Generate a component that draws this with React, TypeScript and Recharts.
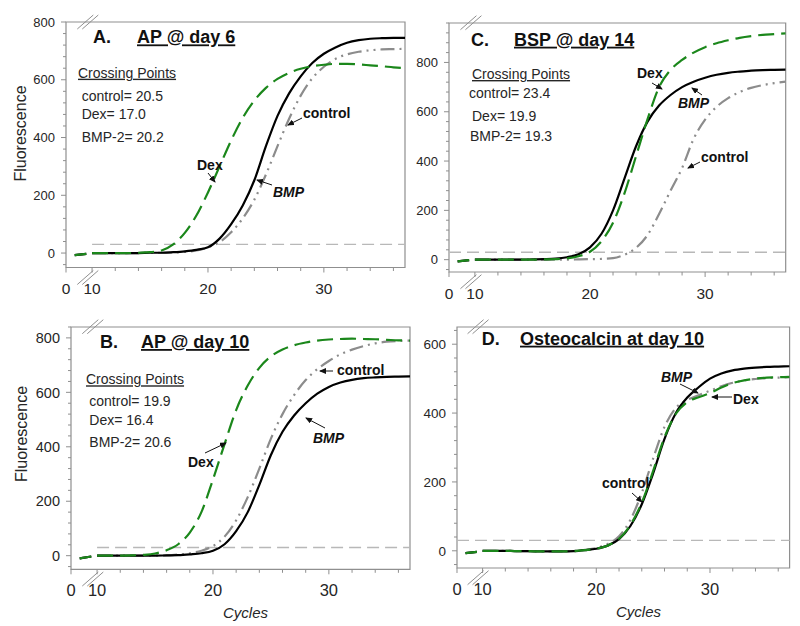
import React from "react"
import { LineChart, Line, XAxis, YAxis, ReferenceLine, ReferenceArea } from "recharts"

const FONT = "'Liberation Sans', Arial, Helvetica, sans-serif"
const INK = "#262626"
const AXIS = "#8f8f8f"
const GREEN = "#1b871b"
const GREY = "#8c8c8c"

// x positions: two points in the broken stretch, a gap, then cycles 10-37
const breakX = [8.5, 9.5]
const gapX = 9.75
const cycles = [10, 11, 12, 13, 14, 15, 16, 17, 18, 19, 20, 21, 22, 23, 24, 25, 26, 27, 28, 29, 30, 31, 32, 33, 34, 35, 36, 37]

const xMajor = [7.75, 10, 20, 30]
const xLabels = ["0", "10", "20", "30"]
const xMinor = [12, 14, 16, 18, 22, 24, 26, 28, 32, 34, 36]
const X_DOMAIN = [7.75, 37]
const THRESHOLD = 30

// A. AP @ day 6
const aPre = [-7, -3]
const aControl = [0, 0, 0, 0, 0, 1, 1, 2, 4, 9, 20, 38, 72, 120, 185, 272, 370, 465, 545, 605, 645, 672, 688, 697, 702, 705, 706, 707]
const aDex = [0, 0, 0, 0, 1, 3, 9, 30, 70, 130, 210, 300, 390, 468, 528, 572, 603, 624, 638, 647, 652, 655, 655, 653, 650, 647, 643, 640]
const aBmp = [0, 0, 0, 0, 0, 1, 1, 3, 6, 11, 20, 50, 100, 165, 252, 370, 475, 553, 612, 658, 690, 712, 728, 737, 742, 744, 745, 745]

// C. BSP @ day 14
const cPre = [-7, -2]
const cControl = [0, 0, 0, 0, 0, 0, 0, 0, 0, 1, 2, 3, 6, 20, 48, 100, 185, 280, 372, 490, 568, 620, 655, 680, 697, 708, 716, 722]
const cDex = [0, 0, 0, 0, 0, 0, 1, 2, 5, 14, 32, 75, 150, 270, 420, 570, 700, 770, 810, 840, 862, 878, 890, 900, 907, 912, 915, 918]
const cBmp = [0, 0, 0, 0, 0, 1, 2, 4, 10, 22, 50, 105, 200, 330, 460, 560, 625, 668, 700, 722, 738, 750, 758, 763, 767, 769, 770, 771]

// B. AP @ day 10
const bPre = [-10, -3]
const bControl = [0, 0, 0, 0, 0, 0, 1, 4, 9, 18, 35, 70, 130, 215, 320, 430, 520, 590, 645, 685, 715, 740, 757, 770, 780, 786, 789, 790]
const bDex = [0, 0, 0, 1, 3, 8, 20, 42, 85, 160, 280, 410, 535, 625, 690, 732, 757, 773, 783, 790, 794, 796, 797, 796, 795, 793, 791, 790]
const bBmp = [0, 0, 0, 0, 0, 0, 1, 2, 5, 9, 18, 42, 90, 160, 260, 370, 455, 515, 560, 595, 620, 636, 646, 652, 655, 657, 658, 659]

// D. Osteocalcin at day 10
const dPre = [-7, -3]
const dControl = [0, 0, 0, -1, -1, -2, -2, -2, 0, 3, 8, 20, 42, 90, 168, 268, 360, 415, 438, 452, 465, 478, 488, 495, 499, 502, 503, 504]
const dDex = [0, 0, 0, -1, -1, -2, -2, -2, -1, 2, 6, 15, 35, 75, 140, 232, 330, 398, 432, 446, 458, 474, 487, 495, 500, 503, 504, 505]
const dBmp = [0, 0, 0, -1, -1, -2, -2, -2, -1, 2, 6, 15, 34, 72, 135, 225, 325, 400, 445, 475, 500, 515, 524, 529, 532, 534, 535, 536]

function rows(pre: number[], control: number[], dex: number[], bmp: number[]) {
  return [
    ...breakX.map((x, i) => ({ x, control: pre[i], dex: pre[i], bmp: pre[i] })),
    { x: gapX, control: null, dex: null, bmp: null },
    ...cycles.map((x, i) => ({ x, control: control[i], dex: dex[i], bmp: bmp[i] })),
  ]
}

function minorTicks(top: number, majors: number[]) {
  const out: number[] = []
  for (let v = -40; v <= top; v += 40) if (!majors.includes(v)) out.push(v)
  return out
}

const panels = [
  { id: "A", l: 66, t: 22, r: 405, b: 277.5, yDomain: [-50, 800], yMajor: [0, 200, 400, 600, 800], yFs: 13, xFs: 15.5, threshFrom: 10, data: rows(aPre, aControl, aDex, aBmp) },
  { id: "C", l: 449.3, t: 22.7, r: 786, b: 281.7, yDomain: [-50, 960], yMajor: [0, 200, 400, 600, 800], yFs: 13, xFs: 15.5, threshFrom: 7.75, data: rows(cPre, cControl, cDex, cBmp) },
  { id: "B", l: 71, t: 326.7, r: 410, b: 579, yDomain: [-50, 840], yMajor: [0, 200, 400, 600, 800], yFs: 14.5, xFs: 16.5, threshFrom: 10, data: rows(bPre, bControl, bDex, bBmp) },
  { id: "D", l: 456.7, t: 326.7, r: 789.3, b: 577.7, yDomain: [-50, 650], yMajor: [0, 200, 400, 600], yFs: 13.5, xFs: 16.5, threshFrom: 7.75, data: rows(dPre, dControl, dDex, dBmp) },
]

function YTick(props: any) {
  const { x, y, payload, majors, fs } = props
  const major = majors.includes(payload.value)
  return (
    <g>
      <line x1={x - (major ? 5 : 3)} x2={x} y1={y} y2={y} stroke={AXIS} />
      {major && (
        <text x={x - 11} y={y} dy="0.36em" textAnchor="end" fontSize={fs} fill={INK} fontFamily={FONT}>
          {payload.value}
        </text>
      )}
    </g>
  )
}

function XTick(props: any) {
  const { x, y, payload, fs } = props
  const idx = xMajor.indexOf(payload.value)
  return (
    <g>
      <line x1={x} x2={x} y1={y} y2={y + (idx >= 0 ? 5 : 3.5)} stroke={AXIS} />
      {idx >= 0 && (
        <text x={x} y={y + 21} dy="0.36em" textAnchor="middle" fontSize={fs} fill={INK} fontFamily={FONT}>
          {xLabels[idx]}
        </text>
      )}
    </g>
  )
}

function Panel({ p }: { p: (typeof panels)[number] }) {
  const w = p.r - p.l
  const h = p.b - p.t
  const yTicks = [...p.yMajor, ...minorTicks(p.yDomain[1], p.yMajor)].sort((a, b) => a - b)
  return (
    <div style={{ position: "absolute", left: p.l - 60, top: p.t - 10 }}>
      <LineChart width={w + 70} height={h + 50} data={p.data} margin={{ top: 10, right: 10, left: 0, bottom: 20 }}>
        <XAxis
          type="number"
          dataKey="x"
          domain={X_DOMAIN}
          allowDataOverflow
          ticks={[...xMajor, ...xMinor]}
          interval={0}
          axisLine={false}
          tickLine={false}
          tickSize={0}
          tickMargin={0}
          height={30}
          tick={(t: any) => <XTick {...t} fs={p.xFs} />}
        />
        <YAxis
          type="number"
          domain={p.yDomain}
          allowDataOverflow
          ticks={yTicks}
          interval={0}
          axisLine={false}
          tickLine={false}
          tickSize={0}
          tickMargin={0}
          width={60}
          tick={(t: any) => <YTick {...t} majors={p.yMajor} fs={p.yFs} />}
        />
        <ReferenceArea x1={7.75} x2={37} y1={p.yDomain[0]} y2={p.yDomain[1]} fill="none" stroke={AXIS} strokeWidth={1.2} ifOverflow="visible" />
        <ReferenceLine
          segment={[{ x: p.threshFrom, y: THRESHOLD }, { x: 37, y: THRESHOLD }]}
          stroke="#b8b8b8"
          strokeWidth={1.3}
          strokeDasharray="12 6"
        />
        <Line type="monotone" dataKey="control" stroke={GREY} strokeWidth={2.2} strokeDasharray="14 5 2 5 2 5" dot={false} isAnimationActive={false} />
        <Line type="monotone" dataKey="bmp" stroke="#000" strokeWidth={2.2} dot={false} isAnimationActive={false} />
        <Line type="monotone" dataKey="dex" stroke={GREEN} strokeWidth={2.2} strokeDasharray="16 7" dot={false} isAnimationActive={false} />
      </LineChart>
    </div>
  )
}

function Arrow({ x1, y1, x2, y2 }: { x1: number; y1: number; x2: number; y2: number }) {
  return <line x1={x1} y1={y1} x2={x2} y2={y2} stroke="#111" strokeWidth={1} markerEnd="url(#ah)" />
}

function Breaks() {
  return (
    <>
      {panels.map((p) => {
        const bx = p.l + ((9.63 - 7.75) * (p.r - p.l)) / 29.25
        return [p.t, p.b].map((y) =>
          [-2.5, 2.5].map((off) => (
            <line key={`${p.id}-${y}-${off}`} x1={bx + off - 8} y1={y + 7} x2={bx + off + 8} y2={y - 7} stroke={AXIS} strokeWidth={1} />
          ))
        )
      })}
    </>
  )
}

const T = { fontFamily: FONT, fill: "#111" }

export default function App() {
  return (
    <div style={{ position: "absolute", left: 0, top: 0, width: 800, height: 626, background: "#fff", fontFamily: FONT }}>
      {panels.map((p) => (
        <Panel key={p.id} p={p} />
      ))}
      <svg width={800} height={626} style={{ position: "absolute", left: 0, top: 0, pointerEvents: "none" }}>
        <defs>
          <marker id="ah" markerWidth="7" markerHeight="6" refX="6" refY="3" orient="auto" markerUnits="userSpaceOnUse">
            <path d="M0,0 L7,3 L0,6 z" fill="#111" />
          </marker>
        </defs>
        <Breaks />

        <text x={20} y={133.5} transform="rotate(-90 20 133.5)" textAnchor="middle" dy="0.35em" fontSize={16} {...T} fill={INK}>Fluorescence</text>
        <text x={21.7} y={434} transform="rotate(-90 21.7 434)" textAnchor="middle" dy="0.35em" fontSize={16} {...T} fill={INK}>Fluorescence</text>
        <text x={245.5} y={618} textAnchor="middle" fontSize={15} fontStyle="italic" {...T} fill={INK}>Cycles</text>
        <text x={638.5} y={617} textAnchor="middle" fontSize={15} fontStyle="italic" {...T} fill={INK}>Cycles</text>

        {/* A */}
        <text x={93} y={43.4} fontSize={18} fontWeight="bold" {...T}>A.</text>
        <text x={137} y={43.4} fontSize={18} fontWeight="bold" textDecoration="underline" {...T}>AP @ day 6</text>
        <text x={78} y={77.7} fontSize={14} textDecoration="underline" {...T} fill={INK}>Crossing Points</text>
        <text x={81.7} y={100.7} fontSize={14} {...T} fill={INK}>control= 20.5</text>
        <text x={81.7} y={119.3} fontSize={14} {...T} fill={INK}>Dex= 17.0</text>
        <text x={81.7} y={141.7} fontSize={14} {...T} fill={INK}>BMP-2= 20.2</text>
        <text x={197} y={170} fontSize={14} fontWeight="bold" {...T}>Dex</text>
        <text x={273} y={196.7} fontSize={14} fontWeight="bold" fontStyle="italic" {...T}>BMP</text>
        <text x={303} y={118.3} fontSize={14} fontWeight="bold" {...T}>control</text>
        <Arrow x1={208} y1={173} x2={215} y2={182} />
        <Arrow x1={272} y1={185} x2={257} y2={180} />
        <Arrow x1={302} y1={118} x2={288} y2={125} />

        {/* C */}
        <text x={471} y={45.7} fontSize={18} fontWeight="bold" {...T}>C.</text>
        <text x={514} y={45.7} fontSize={18} fontWeight="bold" textDecoration="underline" {...T}>BSP @ day 14</text>
        <text x={472} y={79} fontSize={14} textDecoration="underline" {...T} fill={INK}>Crossing Points</text>
        <text x={469} y={98.3} fontSize={14} {...T} fill={INK}>control= 23.4</text>
        <text x={472} y={120.7} fontSize={14} {...T} fill={INK}>Dex= 19.9</text>
        <text x={470} y={141} fontSize={14} {...T} fill={INK}>BMP-2= 19.3</text>
        <text x={637} y={78.3} fontSize={14} fontWeight="bold" {...T}>Dex</text>
        <text x={678} y={108.3} fontSize={14} fontWeight="bold" fontStyle="italic" {...T}>BMP</text>
        <text x={701} y={161.7} fontSize={14} fontWeight="bold" {...T}>control</text>
        <Arrow x1={652} y1={83} x2={662} y2={89} />
        <Arrow x1={702} y1={95} x2={692} y2={88} />
        <Arrow x1={700} y1={162} x2={688} y2={168} />

        {/* B */}
        <text x={100} y={348} fontSize={18} fontWeight="bold" {...T}>B.</text>
        <text x={141} y={348} fontSize={18} fontWeight="bold" textDecoration="underline" {...T}>AP @ day 10</text>
        <text x={86} y={384.3} fontSize={14} textDecoration="underline" {...T} fill={INK}>Crossing Points</text>
        <text x={89.3} y={405.7} fontSize={14} {...T} fill={INK}>control= 19.9</text>
        <text x={89.3} y={425} fontSize={14} {...T} fill={INK}>Dex= 16.4</text>
        <text x={89.3} y={446.7} fontSize={14} {...T} fill={INK}>BMP-2= 20.6</text>
        <text x={188} y={466.7} fontSize={14} fontWeight="bold" {...T}>Dex</text>
        <text x={337} y={375} fontSize={14} fontWeight="bold" {...T}>control</text>
        <text x={313} y={443.3} fontSize={14} fontWeight="bold" fontStyle="italic" {...T}>BMP</text>
        <Arrow x1={205} y1={453} x2={226} y2={443} />
        <Arrow x1={333} y1={371} x2={320} y2={371} />
        <Arrow x1={325} y1={428} x2={306} y2={418} />

        {/* D */}
        <text x={481.7} y={344.7} fontSize={18} fontWeight="bold" {...T}>D.</text>
        <text x={520} y={344.7} fontSize={18} fontWeight="bold" textDecoration="underline" {...T}>Osteocalcin at day 10</text>
        <text x={661} y={381.7} fontSize={14} fontWeight="bold" fontStyle="italic" {...T}>BMP</text>
        <text x={733} y={404.3} fontSize={14} fontWeight="bold" {...T}>Dex</text>
        <text x={602} y={488.3} fontSize={14} fontWeight="bold" {...T}>control</text>
        <Arrow x1={680} y1={384} x2={698} y2={393} />
        <Arrow x1={732} y1={397} x2={712} y2={397} />
        <Arrow x1={632} y1={493} x2={642} y2={502} />
      </svg>
    </div>
  )
}
